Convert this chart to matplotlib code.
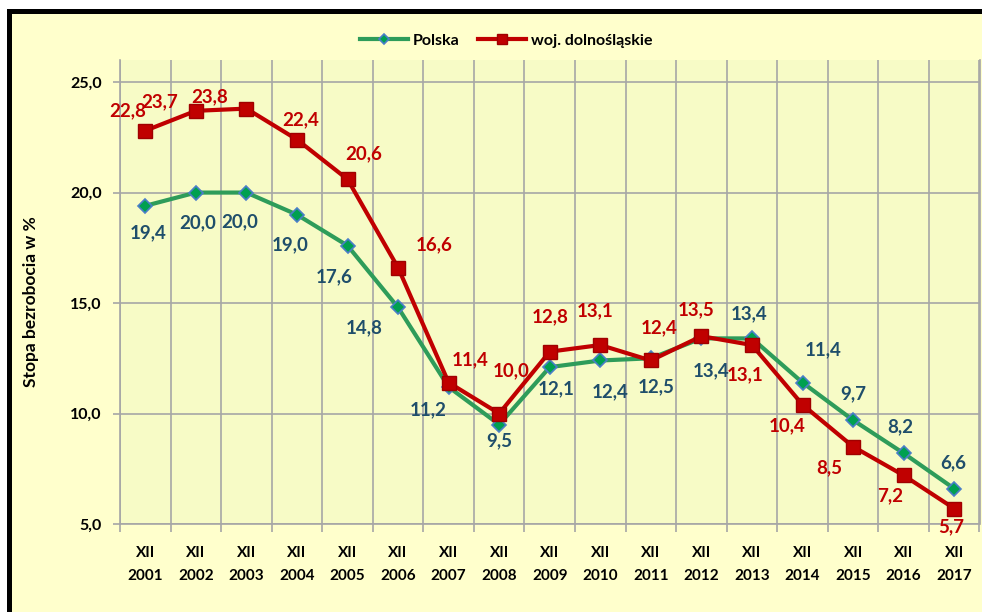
import matplotlib.pyplot as plt
from matplotlib.patches import Rectangle

years = ["2001", "2002", "2003", "2004", "2005", "2006", "2007", "2008", "2009",
         "2010", "2011", "2012", "2013", "2014", "2015", "2016", "2017"]
polska = [19.4, 20.0, 20.0, 19.0, 17.6, 14.8, 11.2, 9.5, 12.1, 12.4, 12.5,
          13.4, 13.4, 11.4, 9.7, 8.2, 6.6]
dolnoslaskie = [22.8, 23.7, 23.8, 22.4, 20.6, 16.6, 11.4, 10.0, 12.8, 13.1, 12.4,
                13.5, 13.1, 10.4, 8.5, 7.2, 5.7]

# label offsets in pixels (dx, dy downward), copied from the layout of the original
pl_off = [(3, 27), (2, 30), (-7, 29), (-7, 30), (-13, 31), (-34, 20), (-20, 23), (0, 16),
          (6, 22), (10, 31), (5, 28), (10, 32), (-3, -25), (21, -33), (0, -26), (-3, -27), (-1, -26)]
ds_off = [(-18, -20), (-36, -9), (-37, -12), (4, -20), (16, -26), (36, -23), (22, -23), (12, -43),
          (0, -35), (-5, -34), (8, -33), (-5, -26), (-7, 30), (-15, 21), (-24, 21), (-14, 20), (-3, 18)]

GREEN = "#2E9C5A"
BLUE_EDGE = "#4A7EC8"
TEAL = "#1F4E6B"
RED = "#C00000"
GRID = "#A6A6A6"

plt.rcParams['font.family'] = ['Lato', 'DejaVu Sans']
plt.rcParams['font.weight'] = 'bold'

fig = plt.figure(figsize=(9.82, 6.12), dpi=100, facecolor="white")
fig.add_artist(Rectangle((8.5 / 982, -0.05), 1.1, (1 - 11 / 612) + 0.05,
                         transform=fig.transFigure, facecolor="#FFFFCC",
                         edgecolor="black", lw=3.6, zorder=-1))

ax = fig.add_axes([120 / 982, 1 - 524 / 612, 859.5 / 982, 464 / 612])
ax.set_facecolor("#F7FBC6")

x = list(range(len(years)))
ax.plot(x, polska, color=GREEN, lw=3, marker="D", ms=7, mfc="#00A050",
        mec=BLUE_EDGE, mew=1.2, label="Polska", zorder=3)
ax.plot(x, dolnoslaskie, color=RED, lw=3, marker="s", ms=10.5, mfc=RED,
        mec="#A00000", mew=1, label="woj. dolnośląskie", zorder=4)

for i in x:
    ax.annotate(f"{polska[i]:.1f}".replace(".", ","), (i, polska[i]),
                xytext=(pl_off[i][0], -pl_off[i][1]), textcoords="offset pixels",
                ha="center", va="center", color=TEAL, fontsize=13.5, fontweight="bold",
                zorder=5)
    ax.annotate(f"{dolnoslaskie[i]:.1f}".replace(".", ","), (i, dolnoslaskie[i]),
                xytext=(ds_off[i][0], -ds_off[i][1]), textcoords="offset pixels",
                ha="center", va="center", color=RED, fontsize=13.5, fontweight="bold",
                zorder=5, annotation_clip=False)

ax.set_xlim(-0.5, len(years) - 0.5)
ax.set_ylim(5, 26)
ax.set_yticks([5, 10, 15, 20, 25])
ax.set_yticklabels([f"{v:.1f}".replace(".", ",") for v in [5, 10, 15, 20, 25]])
ax.set_xticks(x)
ax.set_xticklabels(["XII\n" + y for y in years], linespacing=1.8)
ax.set_xticks([i + 0.5 for i in range(-1, len(years))], minor=True)

ax.tick_params(axis="x", which="major", length=0, pad=16, labelsize=11)
ax.tick_params(axis="x", which="minor", length=6, color=GRID, width=1.2)
ax.tick_params(axis="y", length=5, color=GRID, width=1.2, pad=8, labelsize=11.5)
ax.grid(True, axis="y", color=GRID, lw=1.2)
ax.grid(True, axis="x", which="minor", color=GRID, lw=1.2)
ax.set_axisbelow(True)

ax.spines["top"].set_visible(False)
for s in ["left", "right", "bottom"]:
    ax.spines[s].set_color(GRID)
    ax.spines[s].set_linewidth(1.2)

fig.text(31 / 982, 1 - 302 / 612, "Stopa bezrobocia w %", rotation=90,
         ha="center", va="center", fontsize=12.5, fontweight="bold")

fig.legend(loc="center", bbox_to_anchor=(506 / 982, 1 - 41 / 612), ncol=2,
           frameon=False, handlelength=3, handletextpad=0.3, markerscale=0.75,
           columnspacing=1.2, prop={"weight": "bold", "size": 11.5})

fig.savefig("out.png", dpi=100, facecolor=fig.get_facecolor())
